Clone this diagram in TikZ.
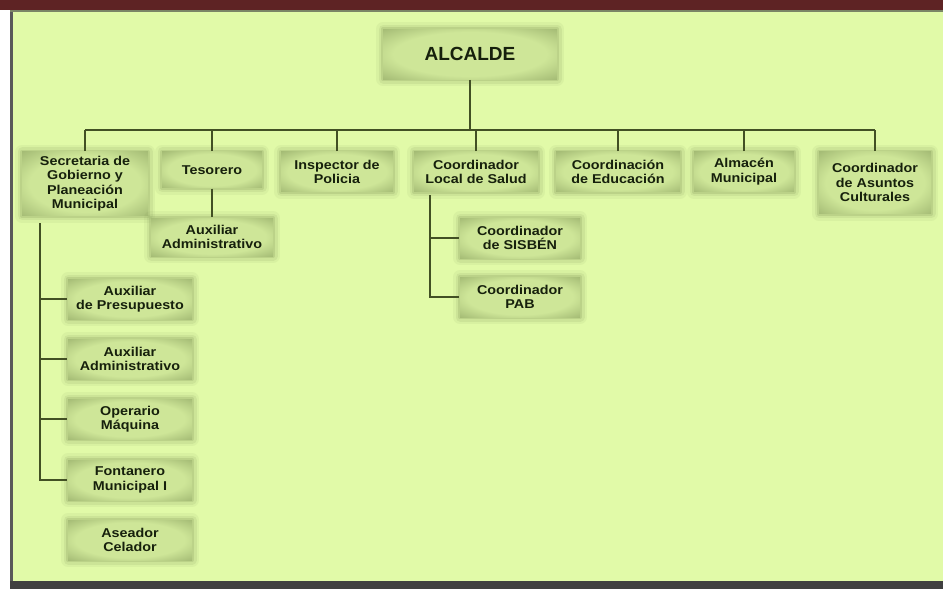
\documentclass[tikz,border=0pt]{standalone}
\usepackage{fontspec}
\setmainfont{Liberation Sans}[FakeStretch=1.12]
\newfontfamily\alcfont{Liberation Sans}
\definecolor{fondo}{RGB}{225,250,168}
\definecolor{marco}{RGB}{94,35,36}
\definecolor{caja}{RGB}{206,230,152}
\definecolor{borde}{RGB}{120,142,80}
\definecolor{linea}{RGB}{66,80,36}
\definecolor{texto}{RGB}{22,32,12}
\pgfdeclareradialshading{cajashade}{\pgfpoint{0bp}{0bp}}{color(0bp)=(caja); color(22bp)=(caja); color(50bp)=(borde); color(72bp)=(borde)}

\begin{document}
\begin{tikzpicture}[x = 1pt, y = -1pt, line width = 1.6pt,
  cargo/.style = {rectangle, shade, shading = cajashade, text = texto, align = center, inner sep = 2pt,
    font = \bfseries\fontsize{12.8}{14.5}\selectfont,
    preaction = {draw = borde, line width = 14pt, line join = round, opacity = 0.08},
    preaction = {draw = borde, line width = 9pt, line join = round, opacity = 0.12},
    preaction = {draw = borde, line width = 4pt, line join = round, opacity = 0.2}},
  arriba/.style = {cargo, anchor = north}]
\useasboundingbox (0,0) rectangle (943,589);
\fill[fondo] (0,0) rectangle (943,589);
\fill[white] (0,10) rectangle (10,589);
\draw[black!65, line width = 2.5pt] (11.5,10) -- (11.5,582);
\draw[linea!70, line width = 1.5pt] (10,11) -- (943,11);
\fill[marco] (0,0) rectangle (943,10);
\fill[black!75] (10,581) rectangle (943,589);
\node[cargo, minimum width = 174pt, minimum height = 50pt, font = \alcfont\bfseries\fontsize{19}{20}\selectfont] (alcalde) at (470,54) {ALCALDE};
\node[arriba, minimum width = 126pt, minimum height = 64pt] (secretaria) at (85,151) {Secretaria de\\Gobierno y\\Planeación\\Municipal};
\node[arriba, minimum width = 100pt, minimum height = 36pt] (tesorero) at (212,151) {Tesorero};
\node[arriba, minimum width = 112pt, minimum height = 40pt] (inspector) at (337,151) {Inspector de\\Policia};
\node[arriba, minimum width = 124pt, minimum height = 40pt] (salud) at (476,151) {Coordinador\\Local de Salud};
\node[arriba, minimum width = 124pt, minimum height = 40pt] (educacion) at (618,151) {Coordinación\\de Educación};
\node[arriba, minimum width = 100pt, minimum height = 40pt] (almacen) at (744,151) {Almacén\\Municipal};
\node[arriba, minimum width = 112pt, minimum height = 62pt] (culturales) at (875,151) {Coordinador\\de Asuntos\\Culturales};
\node[cargo, minimum width = 122pt, minimum height = 38pt] (auxiliar) at (212,237) {Auxiliar\\Administrativo};
\node[cargo, minimum width = 120pt, minimum height = 40pt] (sisben) at (520,238) {Coordinador\\de SISBÉN};
\node[cargo, minimum width = 120pt, minimum height = 40pt] (pab) at (520,297) {Coordinador\\PAB};
\node[cargo, minimum width = 124pt, minimum height = 40pt] (presupuesto) at (130,299) {Auxiliar\\de Presupuesto};
\node[cargo, minimum width = 124pt, minimum height = 40pt] (administrativo) at (130,359) {Auxiliar\\Administrativo};
\node[cargo, minimum width = 124pt, minimum height = 40pt] (operario) at (130,419) {Operario\\Máquina};
\node[cargo, minimum width = 124pt, minimum height = 40pt] (fontanero) at (130,480) {Fontanero\\Municipal I};
\node[cargo, minimum width = 124pt, minimum height = 40pt] (aseador) at (130,540) {Aseador\\Celador};
\coordinate (bus) at (0,130);
\coordinate (ramasalud) at (430,195);
\coordinate (ramasec) at (40,223);
\draw[linea] (alcalde) -- (alcalde |- bus);
\draw[linea] (secretaria |- bus) -- (culturales |- bus);
\draw[linea] (secretaria) -- (secretaria |- bus);
\draw[linea] (tesorero) -- (tesorero |- bus);
\draw[linea] (inspector) -- (inspector |- bus);
\draw[linea] (salud) -- (salud |- bus);
\draw[linea] (educacion) -- (educacion |- bus);
\draw[linea] (almacen) -- (almacen |- bus);
\draw[linea] (culturales) -- (culturales |- bus);
\draw[linea] (tesorero) -- (auxiliar);
\draw[linea] (ramasalud) |- (sisben);
\draw[linea] (ramasalud) |- (pab);
\draw[linea] (ramasec) |- (presupuesto);
\draw[linea] (ramasec) |- (administrativo);
\draw[linea] (ramasec) |- (operario);
\draw[linea] (ramasec) |- (fontanero);
\end{tikzpicture}
\end{document}
